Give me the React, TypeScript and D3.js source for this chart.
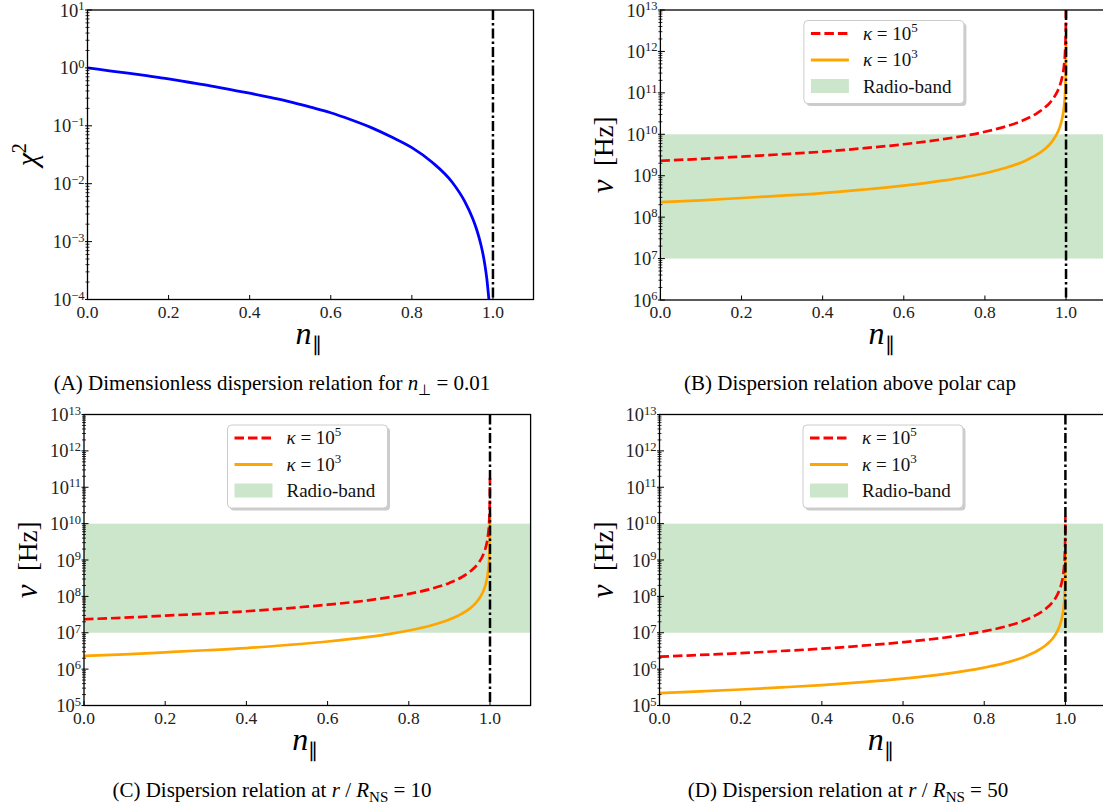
import React from "react";
import * as d3 from "d3";

// ---------- data ----------
const xTicks = [0, 0.2, 0.4, 0.6, 0.8, 1.0];

// Panel A: chi^2 vs n_parallel
const nChi = [0, 0.05, 0.1, 0.15, 0.2, 0.25, 0.3, 0.35, 0.4, 0.45, 0.5, 0.55, 0.6, 0.65, 0.7, 0.75, 0.8, 0.85, 0.9, 0.93, 0.95, 0.96, 0.97, 0.975, 0.98, 0.985, 0.99];
const chiSq = [1.0, 0.9, 0.81, 0.725, 0.645, 0.565, 0.495, 0.425, 0.365, 0.31, 0.26, 0.21, 0.168, 0.127, 0.093, 0.064, 0.042, 0.0235, 0.0105, 0.005, 0.0025, 0.0016, 0.0009, 0.00063, 0.0004, 0.000225, 0.0001];

// Panels B-D: nu vs n_parallel
const nNu = [0, 0.1, 0.2, 0.3, 0.4, 0.5, 0.6, 0.7, 0.75, 0.8, 0.85, 0.9, 0.93, 0.95, 0.96, 0.97, 0.98, 0.985, 0.99, 0.995, 0.998, 0.999, 0.9995, 0.9999];
const nuB_k5 = [2.3e9, 2.55e9, 2.9e9, 3.3e9, 3.8e9, 4.6e9, 5.75e9, 7.7e9, 9.2e9, 1.15e10, 1.53e10, 2.3e10, 3.3e10, 4.6e10, 5.75e10, 7.7e10, 1.15e11, 1.53e11, 2.3e11, 4.6e11, 1.15e12, 2.3e12, 4.6e12, 1.8e13];
const nuB_k3 = [2.3e8, 2.55e8, 2.9e8, 3.3e8, 3.8e8, 4.6e8, 5.75e8, 7.7e8, 9.2e8, 1.15e9, 1.53e9, 2.3e9, 3.3e9, 4.6e9, 5.75e9, 7.7e9, 1.15e10, 1.53e10, 2.3e10, 4.6e10, 1.15e11, 2.3e11, 4.6e11, 1.8e12];
const nuC_k5 = [2.35e7, 2.6e7, 2.95e7, 3.35e7, 3.9e7, 4.7e7, 5.9e7, 7.8e7, 9.4e7, 1.17e8, 1.56e8, 2.35e8, 3.35e8, 4.7e8, 5.9e8, 7.8e8, 1.17e9, 1.57e9, 2.35e9, 4.7e9, 1.17e10, 2.35e10, 4.7e10, 1.8e11];
const nuC_k3 = [2.3e6, 2.55e6, 2.9e6, 3.3e6, 3.8e6, 4.6e6, 5.75e6, 7.7e6, 9.2e6, 1.15e7, 1.53e7, 2.3e7, 3.3e7, 4.6e7, 5.75e7, 7.7e7, 1.15e8, 1.53e8, 2.3e8, 4.6e8, 1.15e9, 2.3e9, 4.6e9, 1.9e10];
const nuD_k5 = [2.2e6, 2.45e6, 2.75e6, 3.15e6, 3.65e6, 4.4e6, 5.5e6, 7.3e6, 8.8e6, 1.1e7, 1.46e7, 2.2e7, 3.15e7, 4.4e7, 5.5e7, 7.3e7, 1.1e8, 1.47e8, 2.2e8, 4.4e8, 1.1e9, 2.2e9, 4.4e9, 1.6e10];
const nuD_k3 = [2.2e5, 2.45e5, 2.75e5, 3.15e5, 3.65e5, 4.4e5, 5.5e5, 7.3e5, 8.8e5, 1.1e6, 1.46e6, 2.2e6, 3.15e6, 4.4e6, 5.5e6, 7.3e6, 1.1e7, 1.47e7, 2.2e7, 4.4e7, 1.1e8, 2.2e8, 4.4e8, 1.6e9];

const radioBand = [1e7, 1e10];
const legendLabels = ["5", "3"]; // kappa exponents
const cutoffN = 1.0;

// ---------- styles ----------
const FONT = "'Liberation Serif', 'Times New Roman', serif";
const RED = "#ff0000";
const ORANGE = "#ffa500";
const BLUE = "#0000ff";
const BAND = "#cce6cc";

type Series = { n: number[]; v: number[]; color: string; dash?: string; width: number };

type PanelProps = {
  id: string;
  left: number;
  right: number;
  top: number;
  bottom: number;
  yExpMin: number;
  yExpMax: number;
  series: Series[];
  band: boolean;
  legend: boolean;
  yLabel: "chi" | "nu";
};

function expLabel(e: number) {
  return e < 0 ? "\u2212" + Math.abs(e) : String(e);
}

function Panel(p: PanelProps) {
  const x = d3.scaleLinear().domain([0, 1.1]).range([p.left, p.right]);
  const y = d3
    .scaleLog()
    .domain([Math.pow(10, p.yExpMin), Math.pow(10, p.yExpMax)])
    .range([p.bottom, p.top]);
  const line = d3
    .line<[number, number]>()
    .x((d) => x(d[0]))
    .y((d) => y(d[1]))
    .curve(d3.curveMonotoneX);
  const clipId = "clip-" + p.id;
  const majors: number[] = [];
  const minors: number[] = [];
  for (let e = p.yExpMin; e <= p.yExpMax; e++) {
    majors.push(e);
    if (e < p.yExpMax) for (let k = 2; k <= 9; k++) minors.push(k * Math.pow(10, e));
  }
  const cx = (p.left + p.right) / 2;
  const cy = (p.top + p.bottom) / 2;
  const lgL = p.left + 143.5;
  const lgT = p.top + 10.5;
  const lgW = 160;
  const lgH = 83;
  const xFmt = d3.format(".1f");
  return (
    <g>
      <defs>
        <clipPath id={clipId}>
          <rect x={p.left} y={p.top} width={p.right - p.left} height={p.bottom - p.top} />
        </clipPath>
      </defs>
      <g clipPath={`url(#${clipId})`}>
        {p.band && (
          <rect
            x={p.left}
            y={y(radioBand[1])}
            width={p.right - p.left}
            height={y(radioBand[0]) - y(radioBand[1])}
            fill={BAND}
          />
        )}
        {p.series.map((s, i) => (
          <path
            key={i}
            d={line(s.n.map((n, j) => [n, s.v[j]] as [number, number])) || ""}
            fill="none"
            stroke={s.color}
            strokeWidth={s.width}
            strokeDasharray={s.dash}
            strokeLinejoin="round"
          />
        ))}
        <line
          x1={x(cutoffN)}
          x2={x(cutoffN)}
          y1={p.top}
          y2={p.bottom}
          stroke="#000"
          strokeWidth={2.5}
          strokeDasharray="10,3,2.5,3"
        />
      </g>
      <rect
        x={p.left}
        y={p.top}
        width={p.right - p.left}
        height={p.bottom - p.top}
        fill="none"
        stroke="#000"
        strokeWidth={1.3}
      />
      {/* x ticks */}
      {xTicks.map((t) => (
        <g key={"x" + t}>
          <line x1={x(t)} x2={x(t)} y1={p.bottom} y2={p.bottom - 4.5} stroke="#000" strokeWidth={1} />
          <text
            x={x(t)}
            y={p.bottom + 18}
            textAnchor="middle"
            fontFamily={FONT}
            fontSize={17.5}
            fill="#222"
          >
            {xFmt(t)}
          </text>
        </g>
      ))}
      {/* y ticks */}
      {minors.map((v, i) => (
        <line key={"m" + i} x1={p.left - 2} x2={p.left + 2} y1={y(v)} y2={y(v)} stroke="#000" strokeWidth={0.8} />
      ))}
      {majors.map((e) => {
        const yy = y(Math.pow(10, e));
        return (
          <g key={"y" + e}>
            <line x1={p.left - 2.5} x2={p.left + 4.5} y1={yy} y2={yy} stroke="#000" strokeWidth={1} />
            <text
              x={p.left - 3}
              y={yy + 6.5}
              textAnchor="end"
              fontFamily={FONT}
              fontSize={18.5}
              fill="#222"
            >
              10
              <tspan dy={-6.5} fontSize={12.5}>
                {expLabel(e)}
              </tspan>
            </text>
          </g>
        );
      })}
      {/* x label */}
      <text x={cx - 2} y={p.bottom + 44} textAnchor="middle" fontFamily={FONT} fontSize={32} fontStyle="italic" fill="#000">
        n
        <tspan dy={7} fontSize={20} fontStyle="normal">
          {"\u2225"}
        </tspan>
      </text>
      {/* y label */}
      {p.yLabel === "nu" ? (
        <text
          transform={`translate(${p.left - 47},${cy}) rotate(-90)`}
          textAnchor="middle"
          fontFamily={FONT}
          fontSize={27}
          fill="#000"
        >
          <tspan fontStyle="italic" fontSize={31}>{"\u03bd"}</tspan>
          {"\u2002[Hz]"}
        </text>
      ) : (
        <text
          transform={`translate(${p.left - 51},${cy}) rotate(-90)`}
          textAnchor="middle"
          fontFamily={FONT}
          fontSize={30}
          fill="#000"
        >
          <tspan fontStyle="italic">{"\u03c7"}</tspan>
          <tspan dy={-11} fontSize={20}>
            2
          </tspan>
        </text>
      )}
      {/* legend */}
      {p.legend && (
        <g>
          <rect x={lgL + 2.5} y={lgT + 2.5} width={lgW} height={lgH} rx={4} fill="#999" opacity={0.5} />
          <rect x={lgL} y={lgT} width={lgW} height={lgH} rx={4} fill="#fff" stroke="#cccccc" strokeWidth={1} />
          <line x1={lgL + 7} x2={lgL + 45} y1={lgT + 13} y2={lgT + 13} stroke={RED} strokeWidth={2.8} strokeDasharray="9.5,4" />
          <text x={lgL + 59} y={lgT + 19} fontFamily={FONT} fontSize={19} fill="#111">
            <tspan fontStyle="italic">{"\u03ba"}</tspan>
            {" = 10"}
            <tspan dy={-8} fontSize={13}>
              {legendLabels[0]}
            </tspan>
          </text>
          <line x1={lgL + 7} x2={lgL + 45} y1={lgT + 39.5} y2={lgT + 39.5} stroke={ORANGE} strokeWidth={2.8} />
          <text x={lgL + 59} y={lgT + 45.5} fontFamily={FONT} fontSize={19} fill="#111">
            <tspan fontStyle="italic">{"\u03ba"}</tspan>
            {" = 10"}
            <tspan dy={-8} fontSize={13}>
              {legendLabels[1]}
            </tspan>
          </text>
          <rect x={lgL + 7} y={lgT + 58.5} width={38} height={14} fill={BAND} />
          <text x={lgL + 59} y={lgT + 72} fontFamily={FONT} fontSize={19} fill="#111">
            Radio-band
          </text>
        </g>
      )}
    </g>
  );
}

const CAP = 21;

function Caption({ x, y, children }: { x: number; y: number; children: React.ReactNode }) {
  return (
    <text x={x} y={y} textAnchor="middle" fontFamily={FONT} fontSize={CAP} fill="#000">
      {children}
    </text>
  );
}

export default function App() {
  const nuSeries = (k5: number[], k3: number[]): Series[] => [
    { n: nNu, v: k3, color: ORANGE, width: 2.7 },
    { n: nNu, v: k5, color: RED, width: 2.7, dash: "9.5,4" },
  ];
  return (
    <svg
      width={1103}
      height={808}
      viewBox="0 0 1103 808"
      style={{ position: "absolute", left: 0, top: 0, background: "#fff" }}
    >
      <rect x={0} y={0} width={1103} height={808} fill="#fff" />
      <Panel
        id="a"
        left={87.5}
        right={533.5}
        top={10}
        bottom={299.5}
        yExpMin={-4}
        yExpMax={1}
        series={[{ n: nChi, v: chiSq, color: BLUE, width: 2.8 }]}
        band={false}
        legend={false}
        yLabel="chi"
      />
      <Panel
        id="b"
        left={660.4}
        right={1106.6}
        top={10}
        bottom={300}
        yExpMin={6}
        yExpMax={13}
        series={nuSeries(nuB_k5, nuB_k3)}
        band={true}
        legend={true}
        yLabel="nu"
      />
      <Panel
        id="c"
        left={84}
        right={530.6}
        top={414.5}
        bottom={705.5}
        yExpMin={5}
        yExpMax={13}
        series={nuSeries(nuC_k5, nuC_k3)}
        band={true}
        legend={true}
        yLabel="nu"
      />
      <Panel
        id="d"
        left={659.5}
        right={1106}
        top={414.5}
        bottom={705.5}
        yExpMin={5}
        yExpMax={13}
        series={nuSeries(nuD_k5, nuD_k3)}
        band={true}
        legend={true}
        yLabel="nu"
      />
      <Caption x={272} y={390}>
        (A) Dimensionless dispersion relation for <tspan fontStyle="italic">n</tspan>
        <tspan dy={5} fontSize={15}>{"\u22a5"}</tspan>
        <tspan dy={-5}>{" = 0.01"}</tspan>
      </Caption>
      <Caption x={850} y={390}>
        (B) Dispersion relation above polar cap
      </Caption>
      <Caption x={272} y={797}>
        (C) Dispersion relation at <tspan fontStyle="italic">r</tspan>
        {" / "}
        <tspan fontStyle="italic">R</tspan>
        <tspan dy={5} fontSize={15}>NS</tspan>
        <tspan dy={-5}>{" = 10"}</tspan>
      </Caption>
      <Caption x={848} y={797}>
        (D) Dispersion relation at <tspan fontStyle="italic">r</tspan>
        {" / "}
        <tspan fontStyle="italic">R</tspan>
        <tspan dy={5} fontSize={15}>NS</tspan>
        <tspan dy={-5}>{" = 50"}</tspan>
      </Caption>
    </svg>
  );
}
